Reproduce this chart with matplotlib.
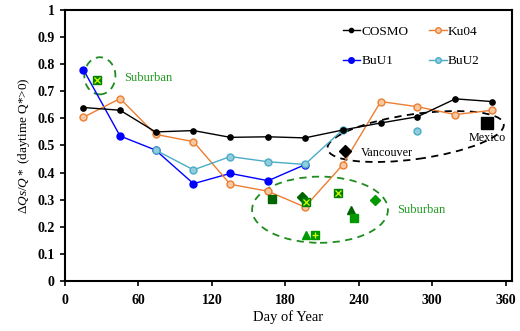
import numpy as np
import matplotlib
matplotlib.use("Agg")
import matplotlib.pyplot as plt
from matplotlib.patches import Ellipse
from matplotlib.transforms import ScaledTranslation

plt.rcParams['font.family'] = ['Liberation Serif', 'DejaVu Serif']
plt.rcParams['mathtext.fontset'] = 'custom'
plt.rcParams['mathtext.it'] = 'Liberation Serif:italic'
plt.rcParams['mathtext.rm'] = 'Liberation Serif'

# Monthly mid-point days
days = [15, 45, 74, 105, 135, 166, 196, 227, 258, 288, 319, 349]

cosmo = [0.64, 0.63, 0.55, 0.555, 0.53, 0.532, 0.528, 0.557, 0.583, 0.606, 0.672, 0.662]
ku04 = [0.604, 0.673, 0.541, 0.514, 0.357, 0.331, 0.273, 0.429, 0.662, 0.643, 0.614, 0.63]
buu1_days = [15, 45, 74, 105, 135, 166, 196]
buu1 = [0.78, 0.535, 0.483, 0.359, 0.397, 0.37, 0.429]
buu2_days = [74, 105, 135, 166, 196, 227, 258, 288]
buu2 = [0.483, 0.41, 0.459, 0.44, 0.43, 0.558, np.nan, 0.555]

# Observed sites
vancouver = (229, 0.481)
mexico = (345, 0.582)

# Suburban observations: (day, value, marker, face colour, overlay symbol)
suburban = [
    (26, 0.742, 's', '#008000', 'x'),
    (169, 0.301, 's', '#006400', None),
    (194, 0.311, 'D', '#006400', None),
    (197, 0.291, 's', '#008000', 'x'),
    (197, 0.169, '^', '#009900', None),
    (204, 0.169, 's', '#009900', '+'),
    (223, 0.325, 's', '#008000', 'x'),
    (234, 0.262, '^', '#006400', None),
    (236, 0.231, 's', '#009900', None),
    (253, 0.300, 'D', '#009900', None),
]

fig = plt.figure(figsize=(5.2, 3.31), dpi=100)
ax = fig.add_axes([0.125, 0.151, 0.859, 0.819])

l_cosmo, = ax.plot(days, cosmo, color='black', lw=1, marker='o', ms=3.8, label='COSMO', zorder=4)
l_ku, = ax.plot(days, ku04, color='#ED7D31', lw=1, marker='o', ms=5, mfc='#F8C9A0',
                mec='#ED7D31', mew=1, label='Ku04', zorder=3)
l_bu1, = ax.plot(buu1_days, buu1, color='#0000FF', lw=1, marker='o', ms=5, label='BuU1', zorder=2)
l_bu2, = ax.plot(buu2_days, buu2, color='#4BACC6', lw=1, marker='o', ms=5, mfc='#92CDDC',
                 mec='#4BACC6', mew=1, label='BuU2', zorder=3)

for d, v, m, c, over in suburban:
    ms = 6.0 if m != 'D' else 4.8
    ax.plot(d, v, marker=m, ms=ms, color=c, mec=c, ls='none', zorder=5)
    if over:
        ax.plot(d, v, marker=over, ms=4.5, color='#D4FF00', mew=0.9, ls='none', zorder=6)

ax.plot(*vancouver, marker='D', ms=6.5, color='black', ls='none', zorder=5)
ax.plot(*mexico, marker='s', ms=8, color='black', ls='none', zorder=5)

# Dashed outlines around groups of observations
ax.add_patch(Ellipse((28.5, 0.757), 25.4, 0.137, fill=False, ec='#1E8C1E', lw=1.3,
                     ls=(0, (4, 3)), zorder=1))
ax.add_patch(Ellipse((208.4, 0.263), 111, 0.244, fill=False, ec='#1E8C1E', lw=1.3,
                     ls=(0, (4, 3)), zorder=1))
ax.add_patch(Ellipse((0, 0), 1.78, 0.45, angle=8, fill=False, ec='black', lw=1.3,
                     ls=(0, (4, 3)), zorder=1,
                     transform=fig.dpi_scale_trans + ScaledTranslation(286.5, 0.533, ax.transData)))

ax.text(48.5, 0.75, 'Suburban', color='#1E9A1E', fontsize=9, va='center', ha='left')
ax.text(271.3, 0.262, 'Suburban', color='#1E9A1E', fontsize=9, va='center', ha='left')
ax.text(241.4, 0.471, 'Vancouver', color='black', fontsize=8.7, va='center', ha='left')
ax.text(329.5, 0.527, 'Mexico', color='black', fontsize=8.7, va='center', ha='left')

ax.set_xlim(0, 365)
ax.set_ylim(0, 1)
ax.set_xticks([0, 60, 120, 180, 240, 300, 360])
ax.set_yticks(np.arange(0, 1.01, 0.1))
ax.set_yticklabels(['0', '0.1', '0.2', '0.3', '0.4', '0.5', '0.6', '0.7', '0.8', '0.9', '1'])
for lab in ax.get_xticklabels() + ax.get_yticklabels():
    lab.set_fontweight('bold')
    lab.set_fontsize(10)
ax.tick_params(axis='both', direction='out', length=3.5, width=1.2)
ax.tick_params(axis='x', pad=6)
ax.tick_params(axis='y', pad=4)
for s in ax.spines.values():
    s.set_linewidth(1.5)

ax.set_xlabel('Day of Year', fontsize=10.5, labelpad=2)
ax.set_ylabel(r'$\it{\Delta Qs/Q*}$ (daytime Q*>0)', fontsize=9.5, labelpad=4)

ax.legend([l_cosmo, l_bu1, l_ku, l_bu2], ['COSMO', 'BuU1', 'Ku04', 'BuU2'], ncol=2,
          frameon=False, loc='upper right', bbox_to_anchor=(0.955, 0.985), fontsize=9.5,
          handlelength=1.3, handletextpad=0.1, columnspacing=1.6, labelspacing=1.3,
          markerscale=0.8)

fig.savefig('out.png', dpi=100)
